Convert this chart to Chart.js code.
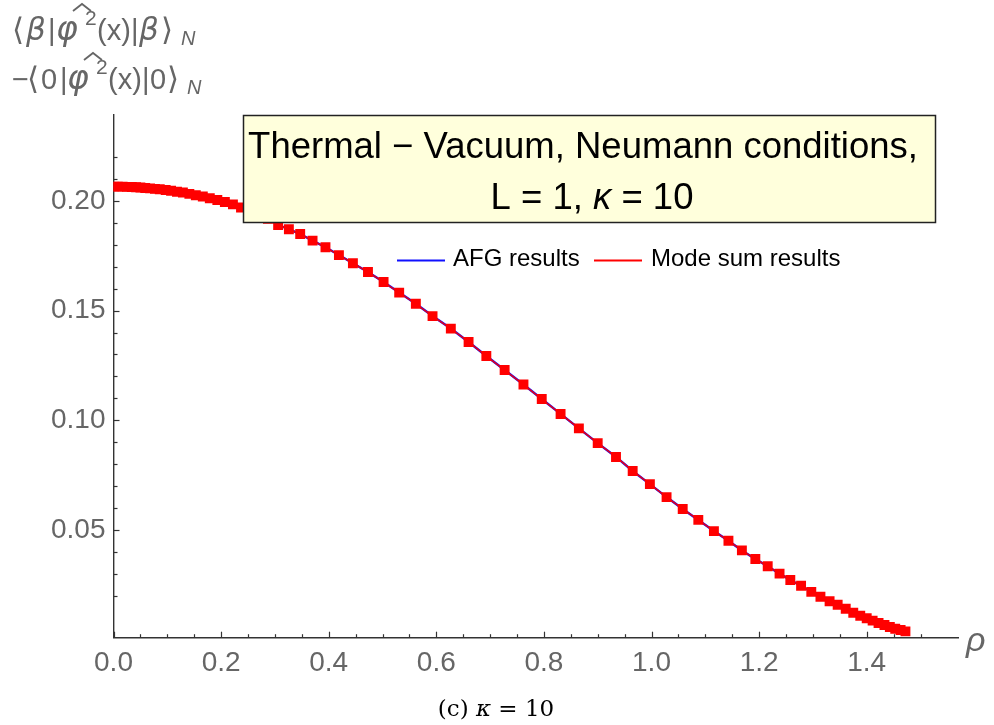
<!DOCTYPE html>
<html><head><meta charset="utf-8">
<script src="https://cdn.jsdelivr.net/npm/chart.js@4.4.1/dist/chart.umd.min.js"></script>
<style>html,body{margin:0;padding:0;background:#fff;}canvas{display:block;}</style>
</head><body>
<canvas id="c" width="994" height="725"></canvas>
<script>
// ---- data ----
const rhoValues = [0.000,0.008,0.017,0.025,0.034,0.042,0.050,0.059,0.068,0.077,0.086,0.097,0.107,0.118,0.129,0.141,0.153,0.166,0.179,0.193,0.207,0.222,0.237,0.253,0.270,0.287,
  0.306,0.326,0.347,0.370,0.394,0.419,0.445,0.473,0.502,0.531,0.562,0.593,0.627,0.660,0.693,0.727,0.762,0.796,0.831,0.865,
  0.900,0.934,0.965,0.997,1.028,1.058,1.087,1.116,1.143,1.168,1.193,1.216,1.238,1.258,1.278,1.297,1.314,1.331,1.346,1.361,
  1.375,1.388,1.400,1.411,1.422,1.433,1.443,1.453,1.463,1.472];
const modeSumValues = [0.2065,0.2065,0.2065,0.2064,0.2063,0.2062,0.2061,0.2059,0.2057,0.2055,0.2053,0.2050,0.2046,0.2042,0.2038,0.2032,0.2026,0.2020,0.2012,0.2004,0.1995,0.1984,0.1970,0.1955,0.1938,0.1918,
  0.1890,0.1871,0.1849,0.1819,0.1789,0.1753,0.1716,0.1676,0.1630,0.1582,0.1531,0.1475,0.1418,0.1357,0.1293,0.1229,0.1163,0.1097,0.1029,0.0963,
  0.0896,0.0833,0.0769,0.0709,0.0650,0.0596,0.0546,0.0495,0.0451,0.0407,0.0368,0.0335,0.0301,0.0272,0.0246,0.0218,0.0196,0.0175,0.0159,0.0141,
  0.0123,0.0109,0.0098,0.0087,0.0076,0.0067,0.0058,0.0050,0.0044,0.0038];
const afgValues = modeSumValues.slice(); // AFG curve coincides with the mode-sum curve
const seriesLabels = ['AFG results', 'Mode sum results'];
const seriesColors = ['#1010ff', '#ff0000'];
const xTickLabels = ['0.0','0.2','0.4','0.6','0.8','1.0','1.2','1.4'];
const yTickLabels = ['0.05','0.10','0.15','0.20'];
const titleLine1 = 'Thermal \u2212 Vacuum, Neumann conditions,';
const titleLine2 = ['L = 1, ', '\u03BA', ' = 10'];
const captionParts = ['(c) ', '\u03BA', ' = 10'];
const xAxisLabel = '\u03C1';

const SANS = '"Liberation Sans", Arial, "DejaVu Sans", sans-serif';
const DJV = '"DejaVu Sans", sans-serif';
const SERIF = '"DejaVu Serif", "Liberation Serif", serif';
const GRAY = '#666666';

function toPoints(xs, ys) { return xs.map((x, i) => ({x: x, y: ys[i]})); }
function matchLabel(list, v) {
  const l = list.find(s => Math.abs(parseFloat(s) - v) < 1e-6);
  return l || '';
}

function drawParts(ctx, parts, x, y, align) {
  let total = 0;
  parts.forEach(p => { ctx.font = p.font; p.w = ctx.measureText(p.t).width; total += p.w; });
  let cx = align === 'center' ? x - total / 2 : x;
  ctx.textAlign = 'left';
  ctx.textBaseline = 'alphabetic';
  parts.forEach(p => {
    ctx.font = p.font;
    ctx.fillText(p.t, cx, y + (p.dy || 0));
    cx += p.w;
  });
}

// pieces placed at explicit x positions (layout only)
function drawPlaced(ctx, parts, y) {
  ctx.textAlign = 'left';
  ctx.textBaseline = 'alphabetic';
  parts.forEach(p => {
    ctx.font = p.font;
    ctx.fillText(p.t, p.x, y + (p.dy || 0));
    if (p.hat) {
      const c = p.x + p.hat;
      ctx.save();
      ctx.strokeStyle = ctx.fillStyle;
      ctx.lineWidth = 1.8;
      ctx.beginPath();
      ctx.moveTo(c - 9, y - 29);
      ctx.lineTo(c, y - 36);
      ctx.lineTo(c + 9, y - 29);
      ctx.stroke();
      ctx.restore();
    }
  });
}

const decorPlugin = {
  id: 'decor',
  afterDraw(chart) {
    const ctx = chart.ctx;
    const xs = chart.scales.x, ys = chart.scales.y;
    const area = chart.chartArea;
    ctx.save();
    // inward tick marks
    ctx.strokeStyle = '#333333';
    ctx.lineWidth = 1.2;
    xs.ticks.forEach(t => {
      if (t.value > 1.56) return;
      const px = Math.round(xs.getPixelForValue(t.value)) + 0.5;
      const len = t.label ? 6 : 3.5;
      ctx.beginPath(); ctx.moveTo(px, area.bottom); ctx.lineTo(px, area.bottom - len); ctx.stroke();
    });
    ys.ticks.forEach(t => {
      if (t.value < 0.005 || t.value > 0.235) return;
      const py = Math.round(ys.getPixelForValue(t.value)) + 0.5;
      const len = t.label ? 6 : 4;
      ctx.beginPath(); ctx.moveTo(area.left, py); ctx.lineTo(area.left + len, py); ctx.stroke();
    });

    // y-axis label (two lines, top-left)
    ctx.fillStyle = GRAY;
    const n = '29px ' + SANS, br = '31px ' + DJV, gr = 'italic 31px ' + DJV, ph = 'italic 33px ' + DJV,
          sm = '21px ' + SANS, smi = 'italic 20px ' + SANS;
    drawPlaced(ctx, [
      {t: '\u27E8', font: br, x: 12}, {t: '\u03B2', font: gr, x: 26}, {t: '|', font: n, x: 48},
      {t: '\u03C6', font: ph, x: 56, hat: 26}, {t: '2', font: sm, x: 85, dy: -15},
      {t: '(x)', font: n, x: 97}, {t: '|', font: n, x: 131}, {t: '\u03B2', font: gr, x: 139},
      {t: '\u27E9', font: br, x: 161}, {t: 'N', font: smi, x: 181, dy: 5}
    ], 40);
    drawPlaced(ctx, [
      {t: '\u2212', font: n, x: 12}, {t: '\u27E8', font: br, x: 27}, {t: '0', font: n, x: 41},
      {t: '|', font: n, x: 60},
      {t: '\u03C6', font: ph, x: 67, hat: 26}, {t: '2', font: sm, x: 96, dy: -15},
      {t: '(x)', font: n, x: 108}, {t: '|', font: n, x: 142}, {t: '0', font: n, x: 150},
      {t: '\u27E9', font: br, x: 167}, {t: 'N', font: smi, x: 187, dy: 5}
    ], 89);

    // x-axis label rho
    ctx.font = 'italic 34px ' + SANS;
    ctx.textAlign = 'left'; ctx.textBaseline = 'alphabetic';
    ctx.fillText(xAxisLabel, 966, 651);

    // title box
    const bx = 243, by = 115, bw = 692, bh = 107;
    ctx.fillStyle = '#ffffdc';
    ctx.fillRect(bx, by, bw, bh);
    ctx.strokeStyle = '#222222';
    ctx.lineWidth = 1.5;
    ctx.strokeRect(bx + 0.5, by + 0.5, bw, bh);
    ctx.fillStyle = '#000000';
    ctx.font = '36.5px ' + SANS;
    ctx.textAlign = 'center'; ctx.textBaseline = 'alphabetic';
    ctx.fillText(titleLine1, 583, 158);
    drawParts(ctx, [
      {t: titleLine2[0], font: '36.5px ' + SANS},
      {t: titleLine2[1], font: 'italic 36.5px ' + SANS},
      {t: titleLine2[2], font: '36.5px ' + SANS}
    ], 592, 209, 'center');

    // legend
    const ly = 260.5;
    const items = [[397, 445, 453], [594, 642, 651]];
    ctx.font = '24px ' + SANS;
    items.forEach((p, i) => {
      ctx.strokeStyle = seriesColors[i];
      ctx.lineWidth = 2;
      ctx.beginPath(); ctx.moveTo(p[0], ly); ctx.lineTo(p[1], ly); ctx.stroke();
      ctx.fillStyle = '#000000';
      ctx.textAlign = 'left'; ctx.textBaseline = 'middle';
      ctx.fillText(seriesLabels[i], p[2], ly - 1);
    });

    // caption
    ctx.fillStyle = '#000000';
    drawParts(ctx, [
      {t: captionParts[0], font: '23px ' + SERIF},
      {t: captionParts[1], font: 'italic 23px ' + SERIF},
      {t: captionParts[2], font: '23px ' + SERIF}
    ], 496, 716, 'center');
    ctx.restore();
  }
};

new Chart(document.getElementById('c'), {
  type: 'scatter',
  data: {
    datasets: [
      {
        label: seriesLabels[1],
        data: toPoints(rhoValues, modeSumValues),
        showLine: true,
        borderColor: '#e0001c',
        borderWidth: 1.6,
        pointStyle: 'rect',
        pointRadius: 7,
        pointHoverRadius: 7,
        pointBackgroundColor: seriesColors[1],
        pointBorderWidth: 0,
        order: 0
      },
      {
        label: seriesLabels[0],
        data: toPoints(rhoValues, afgValues),
        showLine: true,
        borderColor: seriesColors[0],
        borderWidth: 2.4,
        pointRadius: 0,
        order: 1
      }
    ]
  },
  options: {
    responsive: false,
    animation: false,
    events: [],
    layout: {padding: {left: 0, top: 115, right: 35.4, bottom: 0}},
    plugins: {legend: {display: false}, tooltip: {enabled: false}, title: {display: false}},
    scales: {
      x: {
        type: 'linear', min: 0, max: 1.5708,
        grid: {display: false, drawTicks: false},
        border: {display: true, color: '#333333', width: 1.4},
        ticks: {
          stepSize: 0.05, autoSkip: false, maxRotation: 0, padding: 9,
          color: GRAY, font: {family: SANS, size: 28},
          callback: v => matchLabel(xTickLabels, v)
        },
        afterFit: s => { s.height = 725 - 637.7; }
      },
      y: {
        type: 'linear', min: 0.00091, max: 0.23915,
        grid: {display: false, drawTicks: false},
        border: {display: true, color: '#333333', width: 1.4},
        ticks: {
          stepSize: 0.01, autoSkip: false, padding: 8,
          color: GRAY, font: {family: SANS, size: 28},
          callback: v => matchLabel(yTickLabels, v)
        },
        afterFit: s => { s.width = 113.5; }
      }
    }
  },
  plugins: [decorPlugin]
});
</script>
</body></html>
